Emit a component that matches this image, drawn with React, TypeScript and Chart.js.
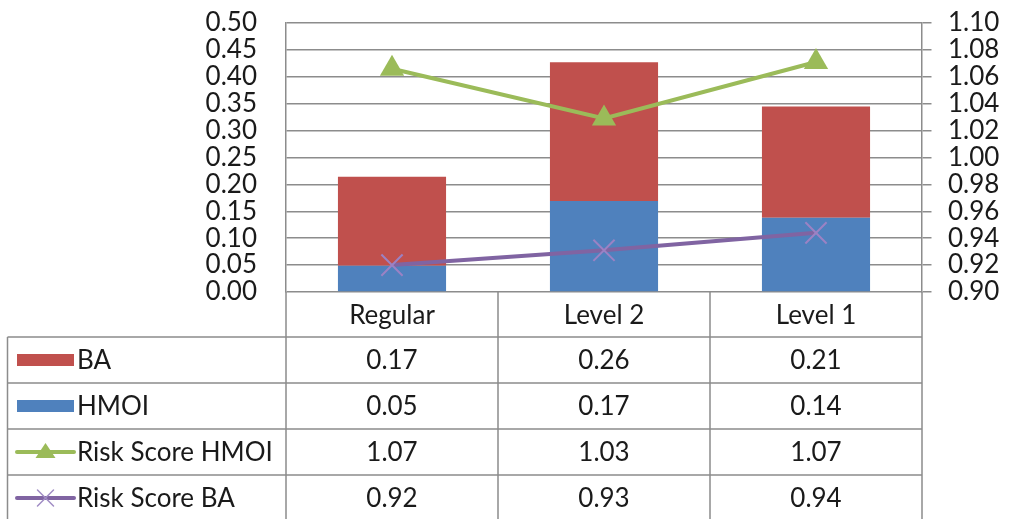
import React, { useEffect, useRef } from 'react';
import { Chart, registerables } from 'chart.js';

Chart.register(...registerables);

const categories = ['Regular', 'Level 2', 'Level 1'];
const baValues = [0.165, 0.258, 0.207];
const hmoiValues = [0.049, 0.169, 0.138];
const riskScoreHmoi = [1.066, 1.029, 1.071];
const riskScoreBa = [0.92, 0.931, 0.944];

const RED = '#C0504D';
const BLUE = '#4F81BD';
const GREEN = '#9BBB59';
const PURPLE = '#8064A2';
const GRID = '#8c8c8c';
const TEXT = '#1a1a1a';
const FONT_FAMILY = 'Lato, "Open Sans", sans-serif';
const FONT_SIZE = 26;

const tableRows = [
  { label: 'BA', values: baValues, key: 'bar', color: RED },
  { label: 'HMOI', values: hmoiValues, key: 'bar', color: BLUE },
  { label: 'Risk Score HMOI', values: riskScoreHmoi, key: 'triangle', color: GREEN },
  { label: 'Risk Score BA', values: riskScoreBa, key: 'cross', color: PURPLE },
];

const tablePlugin = {
  id: 'dataTable',
  afterDraw(chart: any) {
    const ctx = chart.ctx as CanvasRenderingContext2D;
    const ca = chart.chartArea;
    const n = categories.length;
    const colW = (ca.right - ca.left) / n;
    const tableLeft = 7.5;
    const headerH = 45;
    const rowH = 46;
    const top = ca.bottom;
    const H = chart.height;
    ctx.save();
    ctx.strokeStyle = GRID;
    ctx.lineWidth = 1.5;
    ctx.beginPath();
    for (let i = 0; i <= n; i++) {
      const x = ca.left + i * colW;
      ctx.moveTo(x, top);
      ctx.lineTo(x, H);
    }
    ctx.moveTo(tableLeft, top + headerH);
    ctx.lineTo(tableLeft, H);
    for (let r = 0; r < tableRows.length; r++) {
      const y = top + headerH + r * rowH;
      ctx.moveTo(tableLeft, y);
      ctx.lineTo(ca.right, y);
    }
    ctx.stroke();

    ctx.fillStyle = TEXT;
    ctx.font = `${FONT_SIZE}px ${FONT_FAMILY}`;
    ctx.textBaseline = 'middle';
    ctx.textAlign = 'center';
    for (let i = 0; i < n; i++) {
      const cx = ca.left + (i + 0.5) * colW;
      ctx.fillText(categories[i], cx, top + headerH / 2 + 1);
    }
    tableRows.forEach((row, r) => {
      const cy = top + headerH + r * rowH + rowH / 2;
      ctx.textAlign = 'center';
      ctx.fillStyle = TEXT;
      row.values.forEach((v, i) => {
        const cx = ca.left + (i + 0.5) * colW;
        ctx.fillText(v.toFixed(2), cx, cy + 1);
      });
      const kx0 = 17;
      const kx1 = 74;
      if (row.key === 'bar') {
        ctx.fillStyle = row.color;
        ctx.fillRect(kx0, cy - 6, kx1 - kx0, 12);
      } else {
        ctx.strokeStyle = row.color;
        ctx.lineWidth = 4;
        ctx.lineCap = 'round';
        ctx.beginPath();
        ctx.moveTo(kx0, cy);
        ctx.lineTo(kx1, cy);
        ctx.stroke();
        const mx = (kx0 + kx1) / 2;
        if (row.key === 'triangle') {
          ctx.fillStyle = row.color;
          ctx.beginPath();
          ctx.moveTo(mx, cy - 9);
          ctx.lineTo(mx + 10, cy + 6);
          ctx.lineTo(mx - 10, cy + 6);
          ctx.closePath();
          ctx.fill();
        } else {
          ctx.strokeStyle = '#a08cc4';
          ctx.lineWidth = 1.5;
          ctx.beginPath();
          ctx.moveTo(mx - 8, cy - 8);
          ctx.lineTo(mx + 8, cy + 8);
          ctx.moveTo(mx + 8, cy - 8);
          ctx.lineTo(mx - 8, cy + 8);
          ctx.stroke();
        }
      }
      ctx.fillStyle = TEXT;
      ctx.textAlign = 'left';
      ctx.fillText(row.label, 77, cy + 1);
    });
    ctx.restore();
  },
};

export default function App() {
  const ref = useRef<HTMLCanvasElement | null>(null);
  useEffect(() => {
    if (!ref.current) return;
    const chart = new Chart(ref.current, {
      type: 'bar',
      data: {
        labels: categories,
        datasets: [
          {
            type: 'line',
            label: 'Risk Score HMOI',
            data: riskScoreHmoi,
            yAxisID: 'y1',
            borderColor: GREEN,
            backgroundColor: GREEN,
            borderWidth: 4,
            pointStyle: 'triangle',
            pointRadius: 14,
            pointBorderWidth: 0,
            pointBackgroundColor: GREEN,
            order: 0,
          } as any,
          {
            type: 'line',
            label: 'Risk Score BA',
            data: riskScoreBa,
            yAxisID: 'y1',
            borderColor: PURPLE,
            backgroundColor: PURPLE,
            borderWidth: 4,
            pointStyle: 'crossRot',
            pointRadius: 15,
            pointBorderWidth: 2,
            pointBorderColor: '#9b82c4',
            order: 0,
          } as any,
          {
            type: 'bar',
            label: 'HMOI',
            data: hmoiValues,
            backgroundColor: BLUE,
            yAxisID: 'y',
            barPercentage: 0.51,
            categoryPercentage: 1,
            order: 1,
          },
          {
            type: 'bar',
            label: 'BA',
            data: baValues,
            backgroundColor: RED,
            yAxisID: 'y',
            barPercentage: 0.51,
            categoryPercentage: 1,
            order: 1,
          },
        ],
      },
      options: {
        animation: false,
        responsive: true,
        maintainAspectRatio: false,
        layout: { padding: { top: 23, bottom: 227, left: 0, right: 0 } },
        plugins: { legend: { display: false }, tooltip: { enabled: false } },
        scales: {
          x: {
            stacked: true,
            display: false,
            grid: { display: false },
          },
          y: {
            stacked: true,
            position: 'left',
            min: 0,
            max: 0.5,
            ticks: {
              stepSize: 0.05,
              autoSkip: false,
              padding: 5,
              color: TEXT,
              font: { family: FONT_FAMILY, size: 26, lineHeight: 1 },
              callback: (v: any) => Number(v).toFixed(2),
            },
            grid: {
              color: GRID,
              lineWidth: 1.5,
              drawTicks: true,
              tickLength: 24,
              tickColor: 'rgba(0,0,0,0)',
            },
            border: { display: true, color: GRID, width: 1.5 },
            afterFit: (s: any) => {
              s.width = 286;
            },
          },
          y1: {
            position: 'right',
            min: 0.9,
            max: 1.1,
            ticks: {
              stepSize: 0.02,
              autoSkip: false,
              padding: 9,
              color: TEXT,
              font: { family: FONT_FAMILY, size: 26, lineHeight: 1 },
              callback: (v: any) => Number(v).toFixed(2),
            },
            grid: {
              color: GRID,
              lineWidth: 1.5,
              drawOnChartArea: false,
              drawTicks: true,
              tickLength: 17,
              tickBorderDash: [9, 40],
            },
            border: { display: true, color: GRID, width: 1.5 },
            afterFit: (s: any) => {
              s.width = 97;
            },
          },
        },
      } as any,
      plugins: [tablePlugin],
    });
    return () => chart.destroy();
  }, []);
  return (
    <div style={{ position: 'fixed', left: 0, top: 0, width: 1019, height: 519, background: '#fff' }}>
      <canvas ref={ref} />
    </div>
  );
}
